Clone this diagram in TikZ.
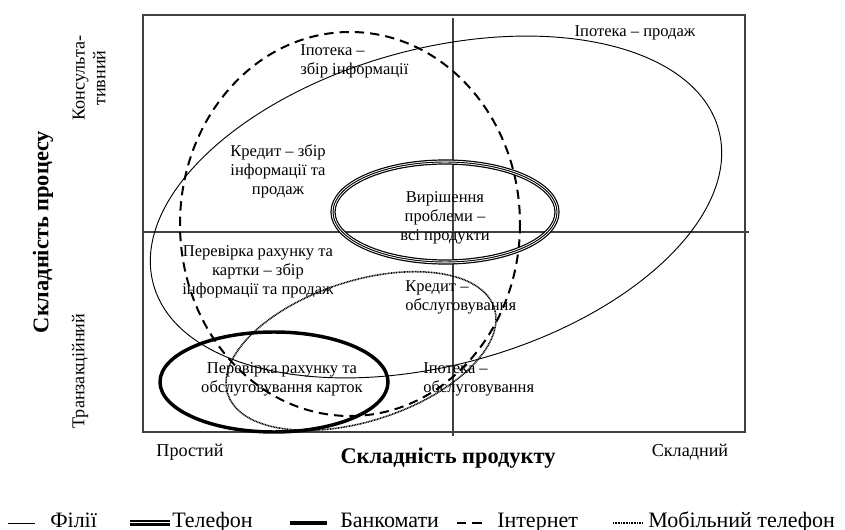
\documentclass[tikz,border=0pt]{standalone}
\usepackage{fontspec}
\setmainfont{Liberation Serif}
\usepackage{tikz}
\usetikzlibrary{positioning}
\tikzset{every node/.style={font=\fontsize{12.4}{14.3}\selectfont, align=center, inner sep=0pt}}
\tikzset{axislabel/.style={font=\fontsize{16.8}{19}\selectfont\bfseries}}
\tikzset{ticklabel/.style={font=\fontsize{13.6}{15.5}\selectfont}}
\tikzset{legendtext/.style={anchor=base west, font=\fontsize{16.5}{19}\selectfont}}
\tikzset{lefttext/.style={anchor=west, align=left}}
\tikzset{gridline/.style={line width=0.8pt, black!75}}
\tikzset{filii/.style={line width=0.7pt}}
\tikzset{telefon/.style={double, line width=0.9pt, double distance=2.1pt}}
\tikzset{telefonmid/.style={line width=0.7pt}}
\tikzset{bankomat/.style={line width=2.6pt}}
\tikzset{internet/.style={line width=1.5pt, dash pattern=on 7pt off 4.5pt}}
\tikzset{mobil/.style={line width=1.2pt, dash pattern=on 0.7pt off 0.5pt}}

\begin{document}
\begin{tikzpicture}[x=0.75pt, y=-0.75pt]
		\useasboundingbox (0,0) rectangle (845,530);
		% frame and quadrants
		\draw[gridline] (143,15) rectangle (745,432);
		\draw[gridline] (453,18) -- (453,436);
		\draw[gridline] (143,232) -- (749,232);
		% channels
		\draw[filii] (436,207) ellipse [x radius=293, y radius=158, rotate=15.3];
		\draw[internet] (350,224) ellipse [x radius=170, y radius=192];
		\draw[telefon] (445,212) ellipse [x radius=112, y radius=50];
		\draw[telefonmid] (445,212) ellipse [x radius=112, y radius=50];
		\draw[bankomat] (274,382) ellipse [x radius=114, y radius=50];
		\draw[mobil] (361,351) ellipse [x radius=140, y radius=70, rotate=17.9];
		% texts in the field
		\node (ipsale) at (635,33) {Іпотека – продаж};
		\node[lefttext] (ipinfo) at (300,61) {Іпотека –\\збір інформації};
		\node (crinfo) at (278,171) {Кредит – збір\\інформації та\\продаж};
		\node (solve) at (445,218) {Вирішення\\проблеми –\\всі продукти};
		\node (check) at (258,272) {Перевірка рахунку та\\картки – збір\\інформації та продаж};
		\node[lefttext] (crserv) at (405,297) {Кредит –\\обслуговування};
		\node (cards) at (282,379) {Перевірка рахунку та\\обслуговування карток};
		\node[lefttext] (ipserv) at (423,379) {Іпотека –\\обслуговування};
		% axes
		\node[rotate=90, ticklabel] (konsult) at (89,78) {Консульта-\\тивний};
		\node[rotate=90, ticklabel] (tranz) at (80,371) {Транзакційний};
		\node[rotate=90, axislabel] (proc) at (43,232) {Складність процесу};
		\node[ticklabel] (simple) at (190,452) {Простий};
		\node[axislabel] (prod) at (448,458) {Складність продукту};
		\node[ticklabel] (complex) at (690,452) {Складний};
		% legend
		\draw[filii] (8,523) -- (35,523);
		\node[legendtext] (lfilii) at (50,527) {Філії};
		\draw[telefon] (130,523) -- (170,523);
		\draw[telefonmid] (130,523) -- (170,523);
		\node[legendtext] (ltel) at (172,527) {Телефон};
		\draw[bankomat] (290,523) -- (327,523);
		\node[legendtext] (lbank) at (340,527) {Банкомати};
		\draw[internet] (457,523) -- (484,523);
		\node[legendtext] (lnet) at (497,527) {Інтернет};
		\draw[mobil] (613,523) -- (642,523);
		\node[legendtext] (lmob) at (648,527) {Мобільний телефон};
	\end{tikzpicture}
\end{document}
